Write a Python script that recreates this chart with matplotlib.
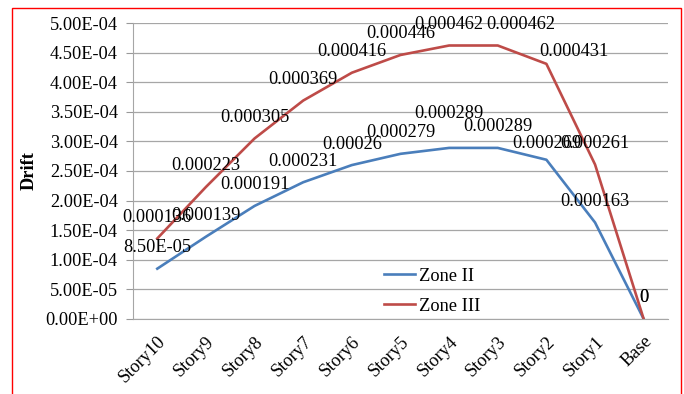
import matplotlib
matplotlib.use("Agg")
import matplotlib.pyplot as plt
from matplotlib.patches import Rectangle

# ---------------------------------------------------------------
#  数据
# ---------------------------------------------------------------
stories = ["Story10", "Story9", "Story8", "Story7", "Story6", "Story5",
           "Story4", "Story3", "Story2", "Story1", "Base"]
zone2 = [8.5e-5, 0.000139, 0.000191, 0.000231, 0.00026, 0.000279,
         0.000289, 0.000289, 0.000269, 0.000163, 0.0]
zone3 = [0.000136, 0.000223, 0.000305, 0.000369, 0.000416, 0.000446,
         0.000462, 0.000462, 0.000431, 0.000261, 0.0]
yticks = [0.0, 5e-5, 1e-4, 1.5e-4, 2e-4, 2.5e-4, 3e-4, 3.5e-4, 4e-4, 4.5e-4, 5e-4]

# 数据标签的偏移（像素），未列出的默认在点上方 21px
label_shift = {
    ("Zone II", "Story4"): (0, 34),
    ("Zone II", "Story2"): (0, 16),
    ("Zone III", "Story3"): (23, 21),
    ("Zone III", "Story2"): (27, 12),
}

plt.rcParams["font.family"] = ["Liberation Serif", "DejaVu Serif"]
plt.rcParams["font.size"] = 13.2


def excel_general(v):
    # Excel "General" 格式的近似
    if v == 0:
        return "0"
    if v < 1e-4:
        return f"{v:.2E}"
    return f"{v:.6f}".rstrip("0")


fig = plt.figure(figsize=(6.84, 3.94), dpi=100)
ax = fig.add_axes([0.1944, 0.1904, 0.7822, 0.7512])

x = list(range(len(stories)))
ax.plot(x, zone2, color="#4A7EBB", lw=1.9, label="Zone II")
ax.plot(x, zone3, color="#BE4B48", lw=1.9, label="Zone III")

px = 72 / 100  # 像素 -> 点
for name, series in (("Zone II", zone2), ("Zone III", zone3)):
    for xi, v in zip(x, series):
        dx, dy = label_shift.get((name, stories[xi]), (0, 21))
        ax.annotate(excel_general(v), (xi, v), xytext=(dx * px, dy * px),
                    textcoords="offset points", ha="center", va="center")

ax.set_xlim(-0.5, len(stories) - 0.5)
ax.set_ylim(0, 5e-4)
ax.set_yticks(yticks)
ax.set_yticklabels([f"{v:.2E}" for v in yticks])
ax.set_xticks(x)
ax.set_xticklabels(stories, rotation=45, ha="right", va="top",
                   rotation_mode="anchor")
ax.tick_params(axis="x", length=0, pad=10)
ax.tick_params(axis="y", length=5, color="#999999", pad=6)

ax.grid(axis="y", color="#a6a6a6", lw=0.9)
ax.set_axisbelow(True)
for side in ("top", "right"):
    ax.spines[side].set_visible(False)
for side in ("left", "bottom"):
    ax.spines[side].set_color("#a6a6a6")

ax.set_ylabel("Drift", fontweight="bold")
ax.yaxis.set_label_coords(-0.179, 0.5)

ax.legend(loc="upper left", bbox_to_anchor=(0.469, 0.173), frameon=False,
          borderpad=0, borderaxespad=0, handlelength=1.7,
          handletextpad=0.2, labelspacing=0.7)

# 外框（红色）
fig.patches.append(Rectangle((12 / 684, -0.02), 669 / 684, 1 - 8 / 394 + 0.02,
                             transform=fig.transFigure, fill=False,
                             edgecolor="red", lw=1.0))

fig.savefig("out.png", dpi=100)
